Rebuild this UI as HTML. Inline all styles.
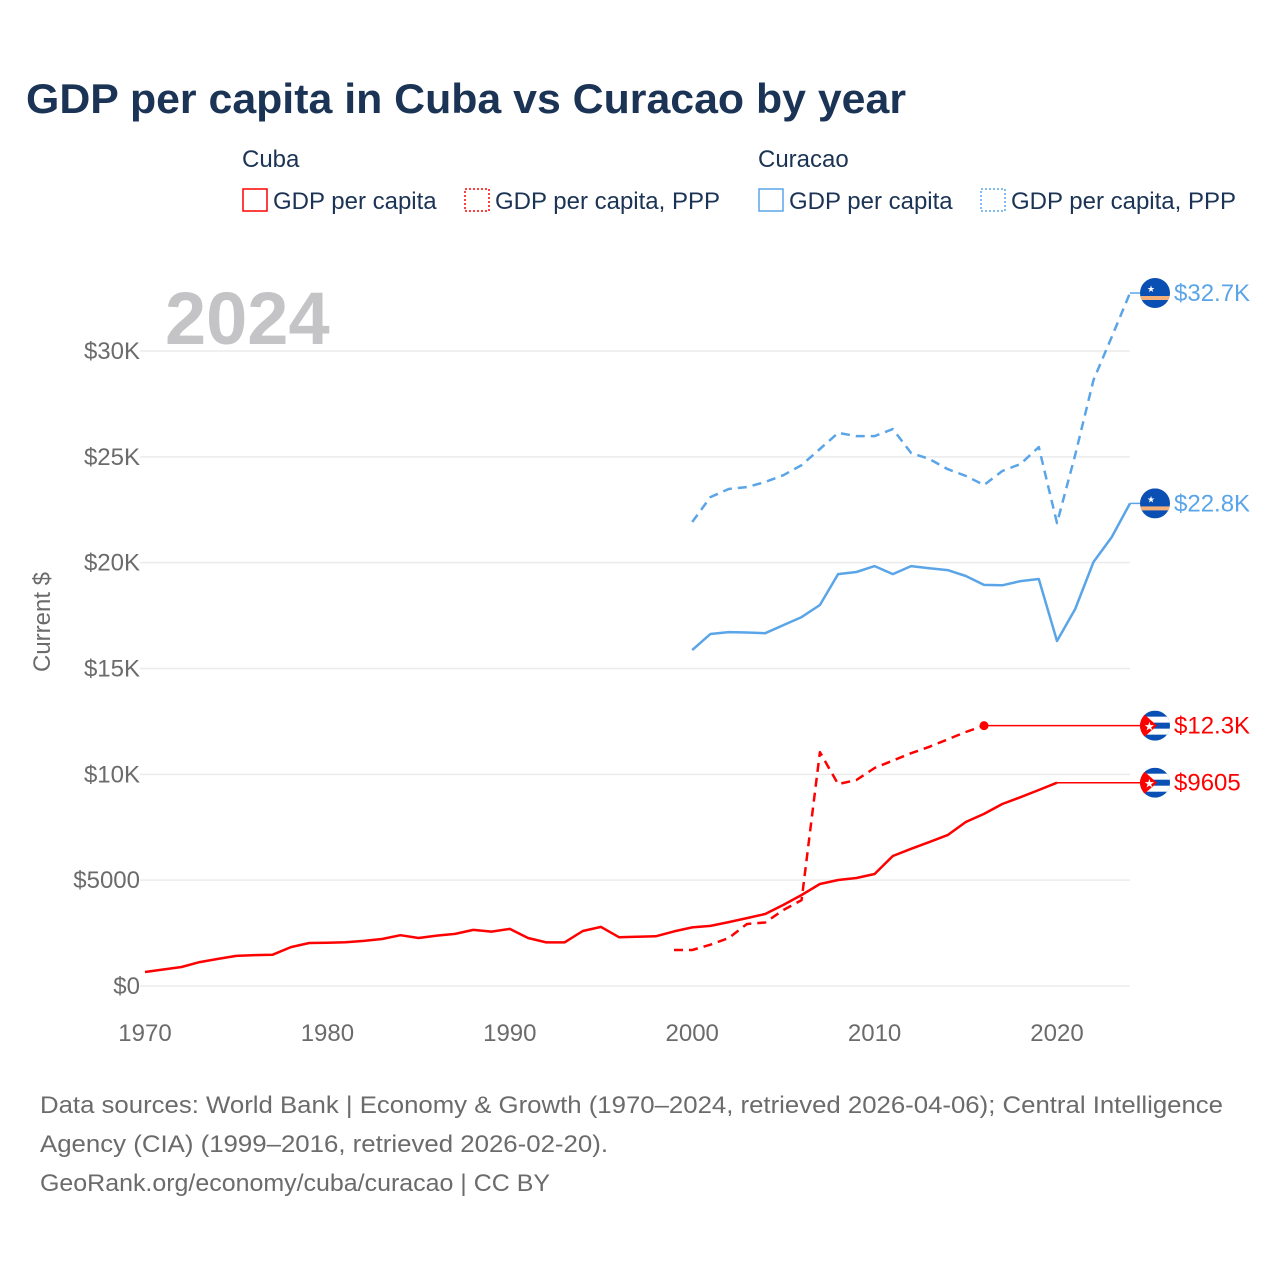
<!DOCTYPE html>
<html><head><meta charset="utf-8"><style>
body{margin:0;background:#fff;font-family:"Liberation Sans",sans-serif;}
#wrap{position:relative;width:1280px;height:1280px;overflow:hidden;}
</style></head><body>
<div id="wrap">
<svg id="chart" width="1280" height="1280" xmlns="http://www.w3.org/2000/svg">
<defs id="defs"></defs>
<text x="26" y="113" font-size="42" font-weight="bold" fill="#1b3354" textLength="880" lengthAdjust="spacingAndGlyphs">GDP per capita in Cuba vs Curacao by year</text>
<g font-size="24" fill="#1b3354">
<text x="242" y="167">Cuba</text>
<rect x="243" y="189" width="24" height="22" fill="none" stroke="#ff0000" stroke-width="1.5"/>
<text x="273" y="209">GDP per capita</text>
<rect x="465" y="189" width="24" height="22" fill="none" stroke="#ff0000" stroke-width="1.5" stroke-dasharray="2,2"/>
<text x="495" y="209">GDP per capita, PPP</text>
<text x="758" y="167">Curacao</text>
<rect x="759" y="189" width="24" height="22" fill="none" stroke="#5aa5e8" stroke-width="1.5"/>
<text x="789" y="209">GDP per capita</text>
<rect x="981" y="189" width="24" height="22" fill="none" stroke="#5aa5e8" stroke-width="1.5" stroke-dasharray="2,2"/>
<text x="1011" y="209">GDP per capita, PPP</text>
</g>
<text x="165" y="344" font-size="74" font-weight="bold" fill="#c4c4c6">2024</text>
<text transform="translate(50,622) rotate(-90)" text-anchor="middle" font-size="24" fill="#6b6b6b">Current $</text>
<g id="grid"></g><g id="series"></g><g id="labels"></g>
<g font-size="24" fill="#6b6b6b">
<text x="40" y="1113" textLength="1183" lengthAdjust="spacingAndGlyphs">Data sources: World Bank | Economy &amp; Growth (1970–2024, retrieved 2026-04-06); Central Intelligence</text>
<text x="40" y="1152" textLength="568" lengthAdjust="spacingAndGlyphs">Agency (CIA) (1999–2016, retrieved 2026-02-20).</text>
<text x="40" y="1191" textLength="510" lengthAdjust="spacingAndGlyphs">GeoRank.org/economy/cuba/curacao | CC BY</text>
</g>
</svg>
</div>
<script>
const yTicks=[0,5000,10000,15000,20000,25000,30000];
const yTickLabels=["$0","$5000","$10K","$15K","$20K","$25K","$30K"];
const xTicks=[1970,1980,1990,2000,2010,2020];
const cubaGdpStart=1970;
const cubaGdp=[660,780,900,1130,1280,1420,1460,1480,1840,2030,2040,2070,2130,2220,2400,2270,2380,2460,2650,2570,2700,2270,2060,2060,2600,2790,2300,2330,2350,2580,2770,2840,3020,3210,3400,3830,4300,4820,5010,5100,5290,6140,6480,6800,7130,7750,8130,8600,8920,9260,9605];
const cubaPppStart=1999;
const cubaPpp=[1700,1700,1950,2270,2930,3000,3590,4060,11050,9540,9730,10300,10650,11000,11300,11650,12000,12300];
const curGdpStart=2000;
const curGdp=[15870,16630,16720,16700,16670,17050,17430,18000,19460,19560,19840,19460,19840,19740,19650,19370,18950,18930,19130,19230,16300,17810,20030,21210,22800];
const curPppStart=2000;
const curPpp=[21920,23100,23480,23570,23810,24130,24610,25370,26130,25980,25980,26310,25180,24900,24420,24100,23670,24330,24660,25460,21870,25090,28630,30660,32740];
const endLabels=["$32.7K","$22.8K","$12.3K","$9605"];

const NS="http://www.w3.org/2000/svg";
const X=y=>145+(y-1970)*18.24;
const Y=v=>986-v*635/30000;
function mk(t,a,p){const e=document.createElementNS(NS,t);for(const k in a)e.setAttribute(k,a[k]);p.appendChild(e);return e;}
const grid=document.getElementById('grid'),ser=document.getElementById('series'),lab=document.getElementById('labels'),defs=document.getElementById('defs');
yTicks.forEach((v,i)=>{
 const l=mk('line',{x1:140,x2:1130,y1:Y(v),y2:Y(v),stroke:'#ebebeb','stroke-width':1.5},grid);
 
 
 const t=mk('text',{x:140,y:Y(v)+8,'text-anchor':'end','font-size':24,fill:'#6b6b6b'},grid);
 t.textContent=yTickLabels[i];
 
 
});
xTicks.forEach(v=>{
 const t=mk('text',{x:X(v),y:1041,'text-anchor':'middle','font-size':24,fill:'#6b6b6b'},grid);
 t.textContent=v;
 
 
});
function line(start,vals,color,dash,name){
 const pts=vals.map((v,i)=>X(start+i).toFixed(1)+','+Y(v).toFixed(1)).join(' ');
 const p=mk('polyline',{points:pts,fill:'none',stroke:color,'stroke-width':2.5,'stroke-linejoin':'round'},ser);
 if(dash)p.setAttribute('stroke-dasharray','9,6');
 
 
 const ey=Y(vals[vals.length-1]), ex=X(start+vals.length-1);
 const c=mk('line',{x1:ex,x2:1140,y1:ey,y2:ey,stroke:color,'stroke-width':1.5},ser);
 
 
 return [ex,ey];
}
let fid=0;
function flag(cx,cy,cuba,name){
 const id='fc'+(fid++);
 const cp=mk('clipPath',{id:id},defs);
 mk('circle',{cx:cx,cy:cy,r:15},cp);
 const g=mk('g',{'clip-path':'url(#'+id+')'},lab);
 
 
 mk('rect',{x:cx-15,y:cy-15,width:30,height:30,fill:'#0a4fb3'},g);
 if(cuba){
  mk('rect',{x:cx-15,y:cy-9,width:30,height:6,fill:'#fff'},g);
  mk('rect',{x:cx-15,y:cy+3,width:30,height:6,fill:'#fff'},g);
  mk('path',{d:`M${cx-15} ${cy-15} L${cx+2} ${cy} L${cx-15} ${cy+15} Z`,fill:'#ff0000'},g);
  const s=mk('text',{x:cx-11,y:cy+5,'font-size':12,fill:'#fff'},g);s.textContent='★';
 } else {
  mk('rect',{x:cx-15,y:cy+3,width:30,height:4,fill:'#f3b07b'},g);
  const s=mk('text',{x:cx-8,y:cy-1,'font-size':9,fill:'#fff'},g);s.textContent='★';
 }
}
const a=line(curPppStart,curPpp,'#5aa5e8',true,'curacao-ppp-line');
const b=line(curGdpStart,curGdp,'#5aa5e8',false,'curacao-gdp-line');
const c=line(cubaPppStart,cubaPpp,'#ff0000',true,'cuba-ppp-line');
const d=line(cubaGdpStart,cubaGdp,'#ff0000',false,'cuba-gdp-line');
const dot=mk('circle',{cx:c[0],cy:c[1],r:4.5,fill:'#ff0000'},ser);


[[a,false,'#5aa5e8'],[b,false,'#5aa5e8'],[c,true,'#ff0000'],[d,true,'#ff0000']].forEach((e,i)=>{
 flag(1155,e[0][1],e[1],'end-flag');
 const t=mk('text',{x:1174,y:e[0][1]+8,'font-size':24,fill:e[2]},lab);
 t.textContent=endLabels[i];
 
 
});
</script>
</body></html>
